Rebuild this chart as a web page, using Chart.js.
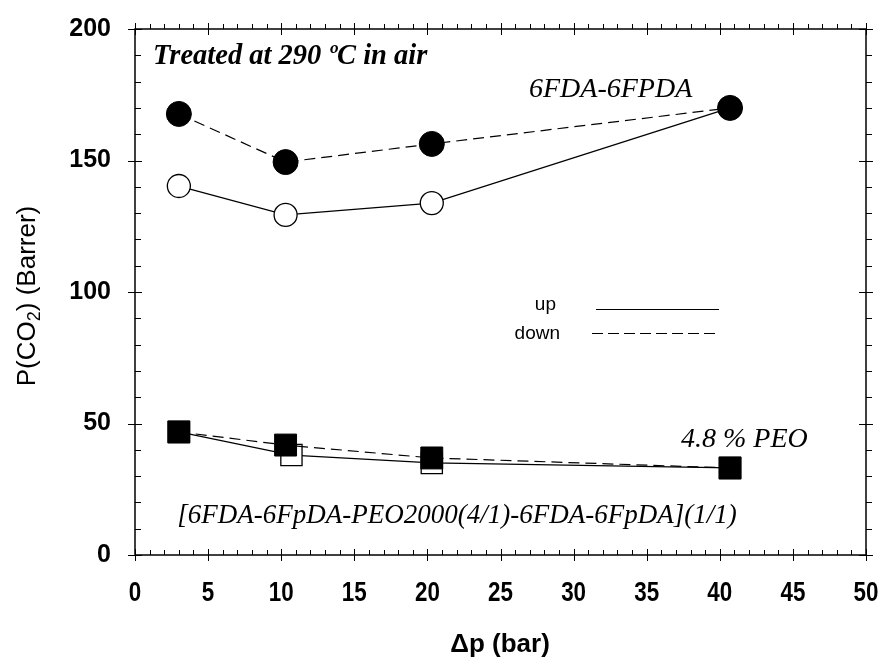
<!DOCTYPE html>
<html lang="en">
<head>
    <meta charset="UTF-8">
    <title>P(CO2) vs pressure</title>
    <script src="https://cdn.jsdelivr.net/npm/chart.js"></script>
    <style>
        body { margin: 0; background: #fff; }
        #myChart { display: block; }
    </style>
</head>
<body>
    <canvas id="myChart" width="883" height="660"></canvas>

    <script>
        // data
        const circUpX = [3, 10.3, 20.3, 40.7];
        const circUpY = [140.3, 129.3, 133.8, 170];
        const circDownX = [3, 10.3, 20.3, 40.7];
        const circDownY = [167.7, 149.4, 156.3, 170];
        const sqUpX = [3, 10.7, 20.3, 40.7];
        const sqUpY = [46.8, 38, 35, 33.1];
        const sqDownX = [3, 10.3, 20.3, 40.7];
        const sqDownY = [46.8, 41.8, 36.9, 33.1];

        const xTicks = [0, 5, 10, 15, 20, 25, 30, 35, 40, 45, 50];
        const yTicks = [0, 50, 100, 150, 200];

        function pts(xs, ys) {
            return xs.map((x, i) => ({ x: x, y: ys[i] }));
        }

        // frame, minor ticks, labels and annotations
        const decor = {
            id: 'decor',
            afterDraw(chart) {
                const ctx = chart.ctx;
                const a = chart.chartArea;
                const xs = chart.scales.x, ys = chart.scales.y;
                ctx.save();
                ctx.strokeStyle = '#000';
                ctx.lineWidth = 1.5;
                ctx.strokeRect(a.left, a.top, a.right - a.left, a.bottom - a.top);

                ctx.lineWidth = 1;
                ctx.beginPath();
                for (let v = 0; v <= 50; v++) {
                    const px = Math.round(xs.getPixelForValue(v)) + 0.5;
                    if (v % 5 === 0) {
                        ctx.moveTo(px, a.bottom + 6); ctx.lineTo(px, a.bottom - 6);
                        ctx.moveTo(px, a.top - 6); ctx.lineTo(px, a.top + 6);
                    } else {
                        ctx.moveTo(px, a.bottom); ctx.lineTo(px, a.bottom - 5);
                        ctx.moveTo(px, a.top); ctx.lineTo(px, a.top - 5);
                    }
                }
                for (let v = 0; v <= 200; v += 10) {
                    const py = Math.round(ys.getPixelForValue(v)) + 0.5;
                    if (v % 50 === 0) {
                        ctx.moveTo(a.left - 7, py); ctx.lineTo(a.left + 7, py);
                        ctx.moveTo(a.right - 7, py); ctx.lineTo(a.right + 7, py);
                    } else {
                        ctx.moveTo(a.left, py); ctx.lineTo(a.left + 6, py);
                        ctx.moveTo(a.right, py); ctx.lineTo(a.right + 6, py);
                    }
                }
                ctx.stroke();

                ctx.fillStyle = '#000';
                ctx.textBaseline = 'middle';

                // x tick labels (condensed bold)
                ctx.textAlign = 'center';
                ctx.font = 'bold 28px "Liberation Sans", Arial, sans-serif';
                xTicks.forEach(v => {
                    ctx.save();
                    ctx.translate(xs.getPixelForValue(v), 593);
                    ctx.scale(0.8, 1);
                    ctx.fillText(String(v), 0, 0);
                    ctx.restore();
                });

                // y title with subscript
                ctx.save();
                ctx.translate(28, 296);
                ctx.rotate(-Math.PI / 2);
                const big = '26px "Liberation Sans", Arial, sans-serif';
                const small = '18px "Liberation Sans", Arial, sans-serif';
                const p1 = 'P(CO', p2 = '2', p3 = ') (Barrer)';
                ctx.font = big;
                const w1 = ctx.measureText(p1).width, w3 = ctx.measureText(p3).width;
                ctx.font = small;
                const w2 = ctx.measureText(p2).width;
                const sx = -(w1 + w2 + w3) / 2;
                ctx.textAlign = 'left';
                ctx.font = big;
                ctx.fillText(p1, sx, 0);
                ctx.font = small;
                ctx.fillText(p2, sx + w1, 7);
                ctx.font = big;
                ctx.fillText(p3, sx + w1 + w2, 0);
                ctx.restore();

                // x title
                ctx.textAlign = 'center';
                ctx.font = 'bold 26px "Liberation Sans", Arial, sans-serif';
                ctx.fillText('\u0394p (bar)', 500, 645);

                // annotations
                ctx.textAlign = 'left';
                ctx.font = 'italic bold 28.5px "Liberation Serif", "Times New Roman", serif';
                ctx.fillText('Treated at 290 \u00baC in air', 153, 57);
                ctx.font = 'italic 28px "Liberation Serif", "Times New Roman", serif';
                ctx.fillText('6FDA-6FPDA', 529, 90);
                ctx.fillText('4.8 % PEO', 681, 440);
                ctx.font = 'italic 27px "Liberation Serif", "Times New Roman", serif';
                ctx.textAlign = 'center';
                ctx.fillText('[6FDA-6FpDA-PEO2000(4/1)-6FDA-6FpDA](1/1)', 457, 516);

                // legend
                ctx.textAlign = 'right';
                ctx.font = '19px "Liberation Sans", Arial, sans-serif';
                ctx.fillText('up', 556, 305);
                ctx.fillText('down', 560, 334);
                ctx.lineWidth = 1.2;
                ctx.beginPath();
                ctx.moveTo(596, 309.5); ctx.lineTo(719, 309.5);
                ctx.stroke();
                ctx.setLineDash([11, 5]);
                ctx.beginPath();
                ctx.moveTo(592, 333.5); ctx.lineTo(718, 333.5);
                ctx.stroke();
                ctx.restore();
            }
        };

        function noPad(s) {
            s.paddingTop = 0; s.paddingBottom = 0;
            s.paddingLeft = 0; s.paddingRight = 0;
        }

        const ctx = document.getElementById('myChart').getContext('2d');
        const myChart = new Chart(ctx, {
            type: 'scatter',
            data: {
                datasets: [
                    {
                        label: 'down (6FDA-6FPDA)',
                        data: pts(circDownX, circDownY),
                        showLine: true,
                        borderColor: '#000',
                        borderWidth: 1.2,
                        borderDash: [11, 6],
                        pointStyle: 'circle',
                        pointRadius: 12.5,
                        pointBorderWidth: 1,
                        pointBackgroundColor: '#000',
                        pointBorderColor: '#000'
                    },
                    {
                        label: 'down (PEO)',
                        data: pts(sqDownX, sqDownY),
                        showLine: true,
                        borderColor: '#000',
                        borderWidth: 1.2,
                        borderDash: [11, 6],
                        pointStyle: 'rect',
                        pointRadius: 15.5,
                        pointBorderWidth: 1,
                        pointBackgroundColor: '#000',
                        pointBorderColor: '#000'
                    },
                    {
                        label: 'up (6FDA-6FPDA)',
                        data: pts(circUpX, circUpY),
                        showLine: true,
                        borderColor: '#000',
                        borderWidth: 1.3,
                        pointStyle: 'circle',
                        pointRadius: 11.5,
                        pointBorderWidth: 1.3,
                        pointBackgroundColor: '#fff',
                        pointBorderColor: '#000'
                    },
                    {
                        label: 'up (PEO)',
                        data: pts(sqUpX, sqUpY),
                        showLine: true,
                        borderColor: '#000',
                        borderWidth: 1.3,
                        pointStyle: 'rect',
                        pointRadius: 15,
                        pointBorderWidth: 1.3,
                        pointBackgroundColor: '#fff',
                        pointBorderColor: '#000'
                    }
                ]
            },
            options: {
                responsive: false,
                animation: false,
                layout: { padding: { top: 29, right: 17, left: 0, bottom: 0 } },
                plugins: {
                    legend: { display: false },
                    tooltip: { enabled: false }
                },
                scales: {
                    x: {
                        type: 'linear',
                        min: 0, max: 50,
                        afterFit: s => { s.height = 105; noPad(s); },
                        afterBuildTicks: s => { s.ticks = xTicks.map(v => ({ value: v })); },
                        grid: { display: false, drawTicks: false, tickLength: 0 },
                        border: { display: false },
                        ticks: { display: false }
                    },
                    y: {
                        type: 'linear',
                        min: 0, max: 200,
                        afterFit: s => { s.width = 135; noPad(s); },
                        afterBuildTicks: s => { s.ticks = yTicks.map(v => ({ value: v })); },
                        grid: { display: false, drawTicks: false, tickLength: 0 },
                        border: { display: false },
                        ticks: {
                            padding: 24,
                            color: '#000',
                            autoSkip: false,
                            font: { family: '"Liberation Sans", Arial', size: 25, weight: 'bold' }
                        }
                    }
                }
            },
            plugins: [decor]
        });
    </script>
</body>
</html>
